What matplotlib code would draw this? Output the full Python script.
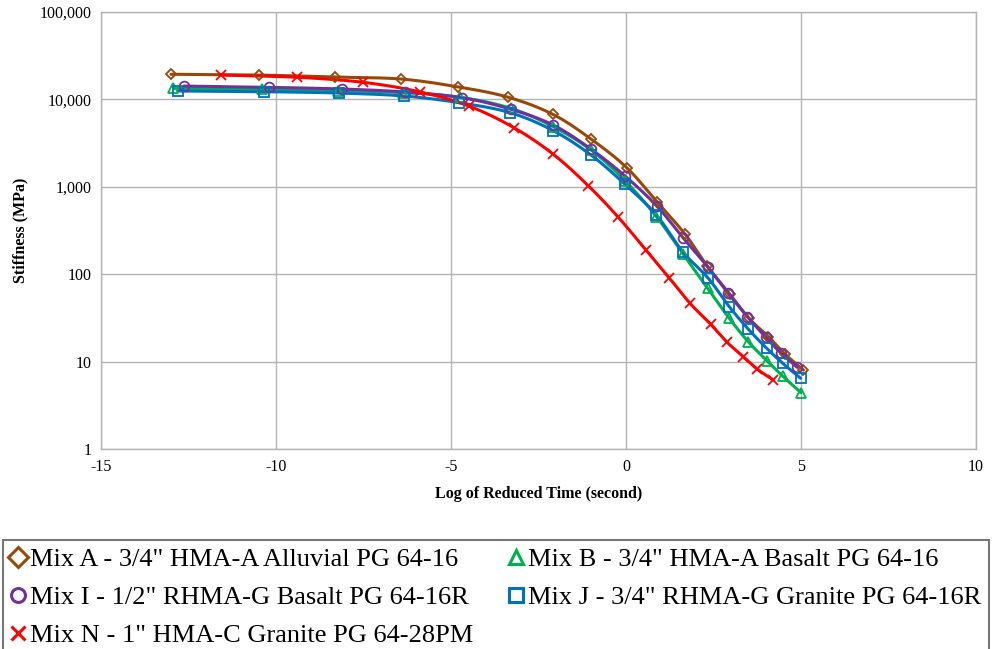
import numpy as np
import matplotlib
matplotlib.use("Agg")
import matplotlib.pyplot as plt
from matplotlib.lines import Line2D

plt.rcParams['font.family'] = ['Liberation Serif', 'DejaVu Serif']

# ---- data (log reduced time, stiffness MPa) ----
labels = ['Mix A - 3/4" HMA-A Alluvial PG 64-16',
          'Mix B - 3/4" HMA-A Basalt PG 64-16',
          'Mix I - 1/2" RHMA-G Basalt PG 64-16R',
          'Mix J - 3/4" RHMA-G Granite PG 64-16R',
          'Mix N - 1" HMA-C Granite PG 64-28PM']

xA = [-13.0, -10.49, -8.31, -6.43, -4.8, -3.37, -2.09, -1.0, 0.02, 0.88, 1.69, 2.32, 2.97, 3.51, 4.07, 4.54, 5.07]
yA = [19400, 19000, 18000, 17100, 13900, 10600, 6750, 3520, 1656, 676, 286, 124, 58.9, 31.3, 19.3, 12.2, 8.0]

xB = [-12.93, -10.41, -8.22, -6.36, -4.74, -3.29, -2.08, -1.0, -0.02, 0.87, 1.63, 2.33, 2.95, 3.49, 4.03, 4.48, 5.0]
yB = [13400, 13060, 12600, 11940, 10570, 7910, 4870, 2640, 1165, 455, 170, 69, 31.3, 16.9, 10.2, 6.8, 4.41]

xI = [-12.63, -10.2, -8.12, -6.31, -4.68, -3.29, -2.08, -1.0, -0.03, 0.88, 1.64, 2.33, 2.92, 3.47, 3.99, 4.42, 4.89]
yI = [14220, 13740, 13150, 12160, 10450, 7710, 5090, 2700, 1330, 603, 258, 122, 60.4, 32.7, 19.0, 12.6, 8.6]

xJ = [-12.79, -10.33, -8.19, -6.34, -4.77, -3.31, -2.08, -1.0, -0.03, 0.86, 1.62, 2.35, 2.95, 3.49, 4.02, 4.48, 4.99]
yJ = [12480, 12250, 11820, 10940, 9170, 7050, 4390, 2310, 1069, 480, 181, 89.8, 42.5, 23.6, 14.2, 9.55, 6.44]

xN = [-11.57, -9.39, -7.52, -5.89, -4.49, -3.2, -2.08, -1.08, -0.22, 0.57, 1.23, 1.83, 2.42, 2.89, 3.35, 3.75, 4.21]
yN = [19000, 17900, 15700, 12200, 8400, 4740, 2360, 1030, 448, 189, 91.2, 46.4, 26.7, 16.6, 11.4, 8.2, 6.15]

xticks = [-15, -10, -5, 0, 5, 10]
yticks = [1, 10, 100, 1000, 10000, 100000]
ytick_labels = ['1', '10', '100', '1,000', '10,000', '100,000']

series = [
    (xA, yA, '#984807', 'D', 5.5),
    (xB, yB, '#00B050', '^', 7),
    (xI, yI, '#7030A0', 'o', 7),
    (xJ, yJ, '#0070C0', 's', 6.5),
    (xN, yN, '#FF0000', 'x', 7),
]


def smooth(x, y, n=24):
    """Catmull-Rom spline through points in (x, log y) space."""
    P = np.column_stack([np.asarray(x, float), np.log10(np.asarray(y, float))])
    P = np.vstack([2 * P[0] - P[1], P, 2 * P[-1] - P[-2]])
    out = []
    t = np.linspace(0, 1, n, endpoint=False)[:, None]
    for i in range(1, len(P) - 2):
        p0, p1, p2, p3 = P[i - 1], P[i], P[i + 1], P[i + 2]
        seg = 0.5 * ((2 * p1) + (-p0 + p2) * t + (2 * p0 - 5 * p1 + 4 * p2 - p3) * t ** 2
                     + (-p0 + 3 * p1 - 3 * p2 + p3) * t ** 3)
        out.append(seg)
    out.append(P[-2][None, :])
    S = np.vstack(out)
    return S[:, 0], 10 ** S[:, 1]


fig = plt.figure(figsize=(9.92, 6.49), dpi=100)
ax = fig.add_axes([101 / 992, 1 - 449 / 649, 875 / 992, 437 / 649])

handles = []
for (x, y, c, m, ms), lab in zip(series, labels):
    sx, sy = smooth(x, y)
    ax.plot(sx, sy, color=c, lw=2.2, solid_capstyle='round', zorder=3)
    ax.plot(x, y, ls='none', marker=m, ms=ms, mfc='none', mec=c, mew=1.3, zorder=4)
    handles.append(Line2D([], [], ls='none', marker=m, ms=10, mfc='none', mec=c, mew=2.2, label=lab))

ax.set_yscale('log')
ax.set_xlim(-15, 10)
ax.set_ylim(1, 100000)
ax.set_xticks(xticks)
ax.set_xticklabels([str(v) for v in xticks])
ax.set_yticks(yticks)
ax.set_yticklabels(ytick_labels)
ax.yaxis.set_minor_locator(matplotlib.ticker.NullLocator())
ax.grid(True, color='#b3b3b3', lw=1.0)
ax.set_axisbelow(True)
for s in ax.spines.values():
    s.set_color('#b3b3b3')
    s.set_linewidth(1.0)
ax.tick_params(length=0, labelsize=11.5, pad=7, colors='black')
ax.set_xlabel('Log of Reduced Time (second)', fontsize=11.5, fontweight='bold', labelpad=8)
ax.set_ylabel('Stiffness (MPa)', fontsize=11.5, fontweight='bold', labelpad=8)

# column-wise fill: col 1 = A, I, N ; col 2 = B, J
order = [0, 2, 4, 1, 3]
leg = fig.legend(handles=[handles[i] for i in order], loc='upper left', ncol=2,
                 bbox_to_anchor=(3 / 992, 0, 986 / 992, 1 - 540 / 649),
                 mode='expand', prop={'family': 'Liberation Serif', 'size': 19},
                 frameon=True, fancybox=False,
                 handlelength=0.6, handletextpad=0.15, labelspacing=0.56,
                 borderpad=0.28, borderaxespad=0)
leg.get_frame().set_edgecolor('#555555')
leg.get_frame().set_linewidth(1.5)

fig.savefig('out.png', dpi=100)
